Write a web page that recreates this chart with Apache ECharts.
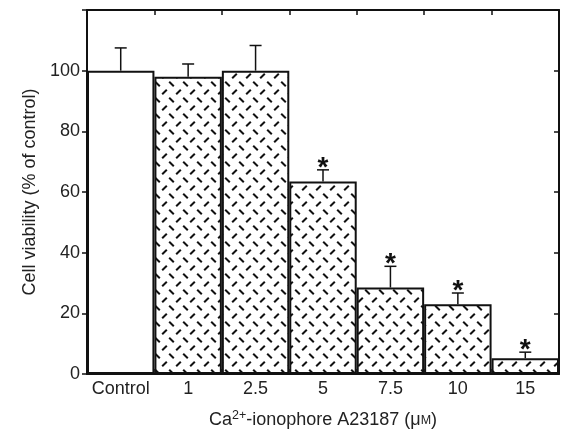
<!DOCTYPE html>
<html>
<head>
<meta charset="utf-8">
<script src="https://cdn.jsdelivr.net/npm/echarts@6/dist/echarts.min.js"></script>
<style>html,body{margin:0;padding:0;background:#fff}#c{width:564px;height:432px}</style>
</head>
<body>
<div id="c"></div>
<script>
const categories = ['Control', '1', '2.5', '5', '7.5', '10', '15'];
const viability = [100, 98, 100, 63.5, 28.5, 23, 5.2];
const errorTop = [107.5, 102.2, 108.3, 67.3, 35.5, 26.7, 7.2];
const significant = [false, false, false, true, true, true, true];
const yTicks = [0, 20, 40, 60, 80, 100, 120];

const FONT = 'Liberation Sans, Arial, Helvetica, sans-serif';

function makePattern() {
  const c = document.createElement('canvas');
  c.width = 14; c.height = 16;
  const g = c.getContext('2d');
  g.fillStyle = '#fff';
  g.fillRect(0, 0, 14, 16);
  g.strokeStyle = '#111';
  g.lineWidth = 2;
  g.lineCap = 'butt';
  g.beginPath();
  g.moveTo(1.2, 1.7); g.lineTo(5.8, 6.3);
  g.moveTo(8.2, 14.3); g.lineTo(12.8, 9.7);
  g.stroke();
  return c;
}
const pattern = { image: makePattern(), repeat: 'repeat' };

const chart = echarts.init(document.getElementById('c'), null, { renderer: 'canvas' });

const barData = viability.map((v, i) => ({
  value: v,
  itemStyle: { color: i === 0 ? '#fff' : pattern, borderColor: '#111', borderWidth: 2 }
}));

const errData = viability.map((v, i) => [i, v, errorTop[i], significant[i] ? 1 : 0]);

chart.setOption({
  animation: false,
  backgroundColor: '#fff',
  grid: { left: 87, right: 5, top: 10, bottom: 58, containLabel: false, outerBoundsMode: 'none' },
  xAxis: [{
    type: 'category',
    data: categories,
    position: 'bottom',
    axisLine: { onZero: false, lineStyle: { color: '#111', width: 2 } },
    axisTick: { show: true, inside: true, length: 5, lineStyle: { color: '#111', width: 1.5 } },
    axisLabel: { color: '#222', fontSize: 18, fontFamily: FONT, margin: 6, interval: 0 },
    name: '{a|Ca}{s|2+}{a|-ionophore A23187 (μ}{m|M}{a|)}',
    nameLocation: 'middle',
    nameGap: 35,
    nameTextStyle: {
      rich: {
        a: { fontSize: 18, fontFamily: FONT, color: '#222' },
        s: { fontSize: 12.5, fontFamily: FONT, color: '#222', verticalAlign: 'top', padding: [0, 0, 10, 0] },
        m: { fontSize: 12.5, fontFamily: FONT, color: '#222' }
      }
    }
  }, {
    type: 'category',
    data: categories,
    position: 'top',
    axisLine: { onZero: false, lineStyle: { color: '#111', width: 2 } },
    axisTick: { show: true, inside: true, length: 5, lineStyle: { color: '#111', width: 1.5 } },
    axisLabel: { show: false }
  }],
  yAxis: [{
    type: 'value',
    min: 0, max: 120, interval: 20,
    position: 'left',
    axisLine: { show: true, onZero: false, lineStyle: { color: '#111', width: 2 } },
    axisTick: { show: true, length: 5, lineStyle: { color: '#111', width: 1.5 } },
    splitLine: { show: false },
    axisLabel: {
      color: '#222', fontSize: 18, fontFamily: FONT, margin: 7,
      formatter: v => (v === 120 ? '' : String(v))
    },
    name: 'Cell viability (% of control)',
    nameLocation: 'middle',
    nameGap: 48,
    nameTextStyle: { fontSize: 18, fontFamily: FONT, color: '#222' }
  }, {
    type: 'value',
    min: 0, max: 120, interval: 20,
    position: 'right',
    axisLine: { show: true, onZero: false, lineStyle: { color: '#111', width: 2 } },
    axisTick: { show: true, inside: true, length: 5, lineStyle: { color: '#111', width: 1.5 } },
    splitLine: { show: false },
    axisLabel: { show: false }
  }],
  series: [{
    type: 'bar',
    data: barData,
    barWidth: '100%',
    barCategoryGap: '0%',
    z: 2
  }, {
    type: 'custom',
    data: errData,
    z: 3,
    renderItem: function (params, api) {
      const i = api.value(0);
      const base = api.coord([i, api.value(1)]);
      const top = api.coord([i, api.value(2)]);
      const cap = 6;
      const lineStyle = { stroke: '#111', lineWidth: 1.5 };
      const children = [
        { type: 'line', shape: { x1: base[0], y1: base[1], x2: top[0], y2: top[1] }, style: lineStyle },
        { type: 'line', shape: { x1: top[0] - cap, y1: top[1], x2: top[0] + cap, y2: top[1] }, style: lineStyle }
      ];
      if (api.value(3)) {
        children.push({
          type: 'text',
          style: {
            text: '*', x: top[0], y: top[1] + 12,
            align: 'center', verticalAlign: 'bottom',
            font: 'bold 28px ' + FONT, fill: '#111'
          }
        });
      }
      return { type: 'group', children: children };
    }
  }]
});
</script>
</body>
</html>
